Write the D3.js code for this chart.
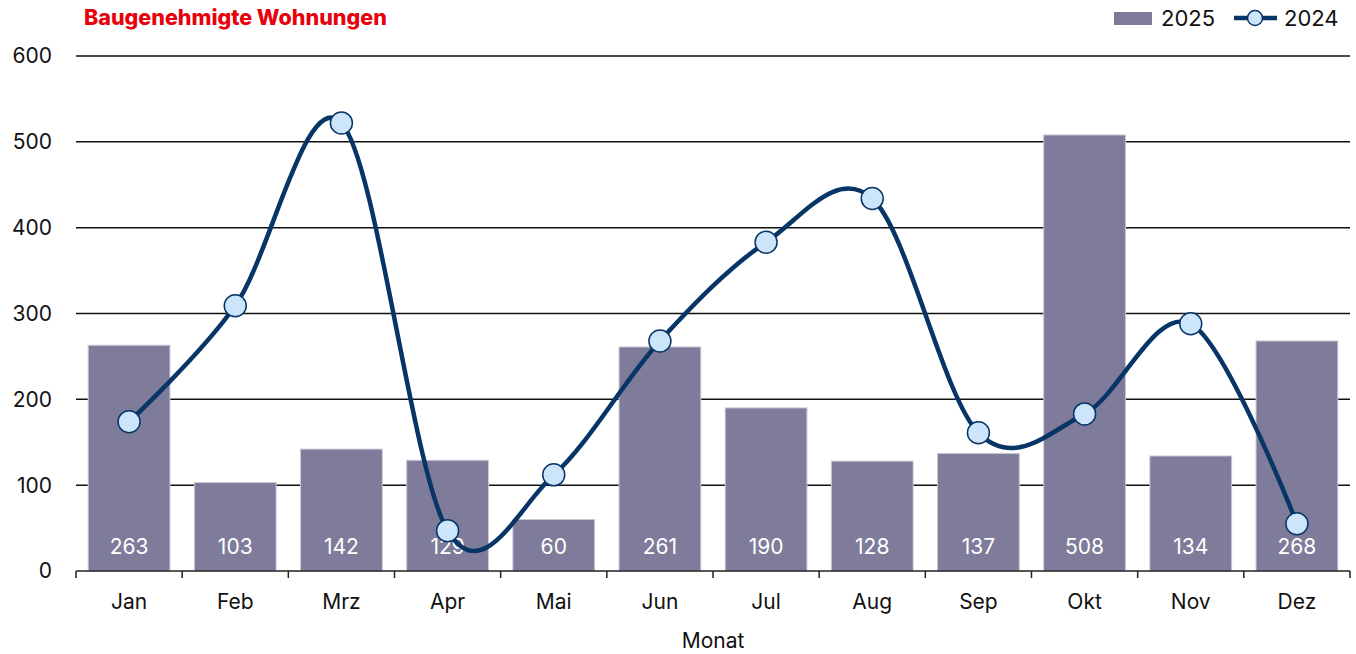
<!DOCTYPE html>
<html>
<head>
<meta charset="utf-8">
<script src="https://cdn.jsdelivr.net/npm/d3@7"></script>
<style>
body { margin: 0; background: #fff; }
text { font-family: Inter, "Liberation Sans", Arial, sans-serif; }
</style>
</head>
<body>
<script>
var months = ["Jan","Feb","Mrz","Apr","Mai","Jun","Jul","Aug","Sep","Okt","Nov","Dez"];
var values2025 = [263,103,142,129,60,261,190,128,137,508,134,268];
var values2024 = [174,309,522,47,112,268,383,434,161,183,288,55];
var yTicks = [0,100,200,300,400,500,600];

var width = 1356, height = 654;
var mLeft = 76, mRight = 1350, mTop = 56, mBottom = 571;

var svg = d3.select("body").append("svg").attr("width",width).attr("height",height);

var x = d3.scaleBand().domain(months).range([mLeft,mRight]).paddingInner(0.23).paddingOuter(0.115);
var xb = d3.scaleBand().domain(months).range([mLeft,mRight]);
var y = d3.scaleLinear().domain([0,600]).range([mBottom,mTop]);

// gridlines
svg.selectAll("line.grid")
      .data(yTicks.slice(1))
      .enter().append("line")
      .attr("class","grid")
      .attr("x1",mLeft).attr("x2",mRight)
      .attr("y1",function(d){return y(d);})
      .attr("y2",function(d){return y(d);})
      .attr("stroke","#111")
      .attr("stroke-width",1.5);

// y labels
svg.selectAll("text.ylab")
      .data(yTicks)
      .enter().append("text")
      .attr("class","ylab")
      .attr("x",52).attr("y",function(d){return y(d);})
      .attr("dy","0.35em")
      .attr("text-anchor","end")
      .attr("font-size",21)
      .attr("fill","#111")
      .text(function(d){return d;});

// bars
svg.selectAll("rect.bar")
      .data(values2025)
      .enter().append("rect")
      .attr("class","bar")
      .attr("x",function(d,i){return x(months[i]);})
      .attr("width",x.bandwidth())
      .attr("y",function(d){return y(d);})
      .attr("height",function(d){return y(0)-y(d);})
      .attr("fill","#7f7b9a")
      .attr("stroke","#c9c7d6")
      .attr("stroke-width",1);

svg.selectAll("text.val")
      .data(values2025)
      .enter().append("text")
      .attr("class","val")
      .attr("x",function(d,i){return x(months[i])+x.bandwidth()/2;})
      .attr("y",547)
      .attr("dy","0.35em")
      .attr("text-anchor","middle")
      .attr("font-size",21)
      .attr("fill","#fff")
      .text(function(d){return d;});

// x axis
var gx = svg.append("g").attr("transform","translate(0,"+mBottom+")");
gx.append("line").attr("x1",mLeft).attr("x2",mRight).attr("y1",0).attr("y2",0)
      .attr("stroke","#222").attr("stroke-width",1.5);
gx.selectAll("line.tick")
      .data(months.concat(["end"]))
      .enter().append("line")
      .attr("x1",function(d,i){return mLeft+i*xb.step();})
      .attr("x2",function(d,i){return mLeft+i*xb.step();})
      .attr("y1",0).attr("y2",7)
      .attr("stroke","#222").attr("stroke-width",1.5);
gx.selectAll("text.xlab")
      .data(months)
      .enter().append("text")
      .attr("x",function(d){return xb(d)+xb.bandwidth()/2;})
      .attr("y",31)
      .attr("dy","0.35em")
      .attr("text-anchor","middle")
      .attr("font-size",21)
      .attr("fill","#111")
      .text(function(d){return d;});

svg.append("text").text("Monat")
      .attr("x",(mLeft+mRight)/2).attr("y",641)
      .attr("dy","0.35em")
      .attr("text-anchor","middle")
      .attr("font-size",21)
      .attr("fill","#111");

// line 2024
var line = d3.line()
      .x(function(d,i){return xb(months[i])+xb.bandwidth()/2;})
      .y(function(d){return y(d);})
      .curve(d3.curveCardinal.tension(0));

svg.append("path")
      .datum(values2024)
      .attr("d",line)
      .attr("fill","none")
      .attr("stroke","#063566")
      .attr("stroke-width",4.5);

svg.selectAll("circle.pt")
      .data(values2024)
      .enter().append("circle")
      .attr("class","pt")
      .attr("cx",function(d,i){return xb(months[i])+xb.bandwidth()/2;})
      .attr("cy",function(d){return y(d);})
      .attr("r",11)
      .attr("fill","#cde5fb")
      .attr("stroke","#063566")
      .attr("stroke-width",1.5);

// title
svg.append("text").text("Baugenehmigte Wohnungen")
      .attr("x",84).attr("y",17)
      .attr("dy","0.35em")
      .attr("font-size",21.5)
      .attr("font-weight",800)
      .attr("fill","#e8000b");

// legend
svg.append("rect").attr("x",1114).attr("y",12).attr("width",38).attr("height",13).attr("fill","#7f7b9a");
svg.append("text").text("2025").attr("x",1161).attr("y",18).attr("dy","0.35em")
      .attr("font-size",22).attr("fill","#111");
svg.append("line").attr("x1",1234).attr("x2",1277).attr("y1",18).attr("y2",18)
      .attr("stroke","#063566").attr("stroke-width",4.5);
svg.append("circle").attr("cx",1255).attr("cy",18).attr("r",7.5)
      .attr("fill","#cde5fb").attr("stroke","#063566").attr("stroke-width",1.5);
svg.append("text").text("2024").attr("x",1284).attr("y",18).attr("dy","0.35em")
      .attr("font-size",22).attr("fill","#111");
</script>
</body>
</html>
